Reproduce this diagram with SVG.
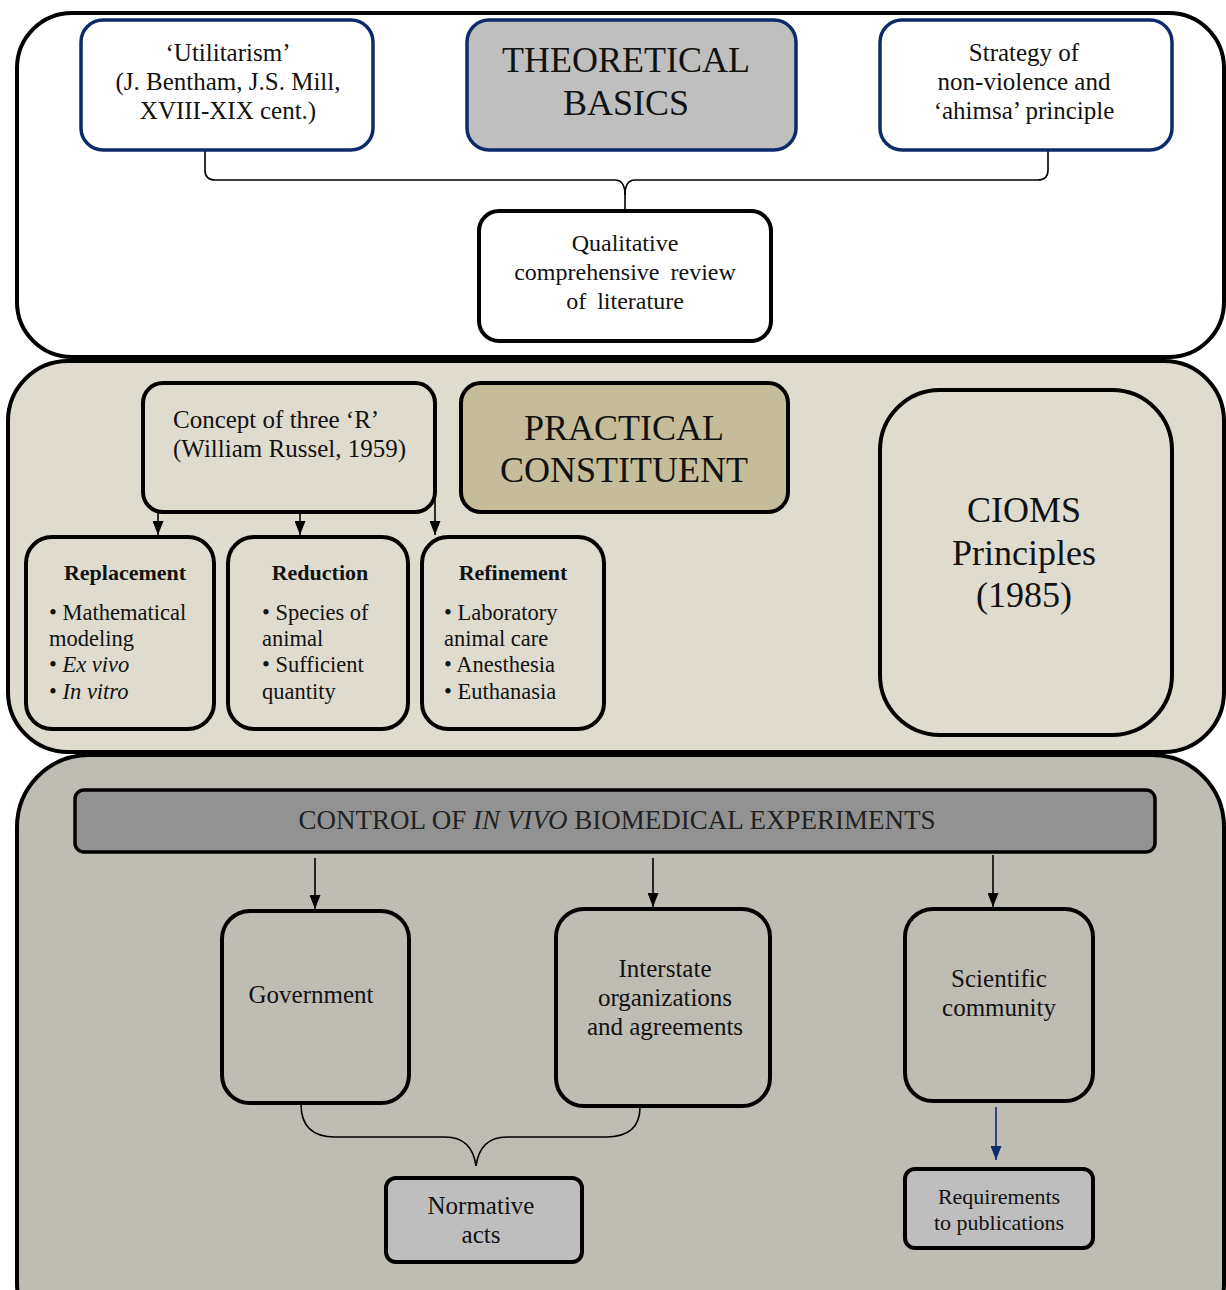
<svg xmlns="http://www.w3.org/2000/svg" width="1226" height="1290" viewBox="0 0 1226 1290">
<defs>
<style>
text{font-family:"Liberation Serif","Times New Roman",serif;fill:#111;}
.t24{font-size:25px;text-anchor:middle;}
.t22{font-size:22.5px;}
.big{font-size:36px;text-anchor:middle;}
.panel{stroke:#000;stroke-width:4;}
.box{stroke:#000;stroke-width:4;}
.bbox{stroke:#0d2a6b;stroke-width:3.5;fill:#fff;}
.conn{fill:none;stroke:#000;stroke-width:1.6;}
.b{font-weight:bold;text-anchor:middle;font-size:22px;}
</style>
<marker id="ah" viewBox="0 0 14 11" refX="14" refY="5.5" markerWidth="14" markerHeight="11" markerUnits="userSpaceOnUse" orient="auto"><path d="M0,0 L14,5.5 L0,11 z" fill="#000"/></marker>
<marker id="ahb" viewBox="0 0 14 11" refX="14" refY="5.5" markerWidth="14" markerHeight="11" markerUnits="userSpaceOnUse" orient="auto"><path d="M0,0 L14,5.5 L0,11 z" fill="#0d2a6b"/></marker>
</defs>

<!-- Panels -->
<g id="panel-theoretical"><rect class="panel" x="17" y="13" width="1207" height="344" rx="55" fill="#fff"/></g>
<g id="panel-practical"><rect class="panel" x="8" y="361" width="1216" height="391" rx="60" fill="#dfdccf"/></g>
<g id="panel-control"><rect class="panel" x="17" y="755" width="1207" height="600" rx="72" fill="#bfbcb4"/></g>

<!-- Connectors -->
<g id="connectors">
<path class="conn" d="M205,150 V170 Q205,180 215,180 H615 Q625,180 625,195 V210"/>
<path class="conn" d="M1048,150 V170 Q1048,180 1038,180 H635 Q625,180 625,195"/>
<line class="conn" x1="158" y1="512" x2="158" y2="535" marker-end="url(#ah)"/>
<line class="conn" x1="300" y1="512" x2="300" y2="535" marker-end="url(#ah)"/>
<line class="conn" x1="435" y1="492" x2="435" y2="535" marker-end="url(#ah)"/>
<line class="conn" x1="315" y1="858" x2="315" y2="909" marker-end="url(#ah)"/>
<line class="conn" x1="653" y1="858" x2="653" y2="907" marker-end="url(#ah)"/>
<line class="conn" x1="993" y1="855" x2="993" y2="907" marker-end="url(#ah)"/>
<line x1="996" y1="1107" x2="996" y2="1160" stroke="#0d2a6b" stroke-width="1.6" marker-end="url(#ahb)"/>
<path class="conn" d="M301,1104 Q301,1137 335,1137 H445 Q472,1137 476,1166"/>
<path class="conn" d="M640,1107 Q640,1137 606,1137 H507 Q480,1137 476,1166"/>
</g>

<!-- Theoretical nodes -->
<g id="utilitarism"><rect class="bbox" x="81" y="20" width="292" height="130" rx="22"/>
<text class="t24" x="228" y="61">‘Utilitarism’</text>
<text class="t24" x="228" y="90">(J. Bentham, J.S. Mill,</text>
<text class="t24" x="228" y="119">XVIII-XIX cent.)</text></g>
<g id="theoretical-basics"><rect class="bbox" x="467" y="20" width="329" height="130" rx="22" style="fill:#bfbfbf"/>
<text class="big" x="626" y="72">THEORETICAL</text>
<text class="big" x="626" y="115">BASICS</text></g>
<g id="strategy"><rect class="bbox" x="880" y="20" width="292" height="130" rx="22"/>
<text class="t24" x="1024" y="61">Strategy of</text>
<text class="t24" x="1024" y="90">non-violence and</text>
<text class="t24" x="1024" y="119">‘ahimsa’ principle</text></g>
<g id="qualitative"><rect class="box" x="479" y="211" width="292" height="130" rx="20" fill="#fff"/>
<text class="t24" x="625" y="251" style="font-size:24px">Qualitative</text>
<text class="t24" x="625" y="280" style="font-size:24px" word-spacing="5">comprehensive review</text>
<text class="t24" x="625" y="309" style="font-size:24px" word-spacing="5">of literature</text></g>

<!-- Practical nodes -->
<g id="concept"><rect class="box" x="143" y="383" width="292" height="129" rx="20" fill="#dfdccf"/>
<text class="t24" x="173" y="428" style="text-anchor:start">Concept of three ‘R’</text>
<text class="t24" x="173" y="457" style="text-anchor:start">(William Russel, 1959)</text></g>
<g id="practical-constituent"><rect class="box" x="461" y="383" width="327" height="129" rx="20" fill="#c5bd99"/>
<text class="big" x="624" y="440">PRACTICAL</text>
<text class="big" x="624" y="482">CONSTITUENT</text></g>
<g id="cioms"><rect class="box" x="880" y="390" width="292" height="345" rx="60" fill="#dfdccf"/>
<text class="big" x="1024" y="522">CIOMS</text>
<text class="big" x="1024" y="565">Principles</text>
<text class="big" x="1024" y="607">(1985)</text></g>
<g id="replacement"><rect class="box" x="26" y="537" width="188" height="192" rx="26" fill="#dfdccf"/>
<text class="b" x="125" y="580">Replacement</text>
<text class="t22" x="49" y="620">• Mathematical</text>
<text class="t22" x="49" y="646">modeling</text>
<text class="t22" x="49" y="672">• <tspan font-style="italic">Ex vivo</tspan></text>
<text class="t22" x="49" y="699">• <tspan font-style="italic">In vitro</tspan></text></g>
<g id="reduction"><rect class="box" x="228" y="537" width="180" height="192" rx="26" fill="#dfdccf"/>
<text class="b" x="320" y="580">Reduction</text>
<text class="t22" x="262" y="620">• Species of</text>
<text class="t22" x="262" y="646">animal</text>
<text class="t22" x="262" y="672">• Sufficient</text>
<text class="t22" x="262" y="699">quantity</text></g>
<g id="refinement"><rect class="box" x="422" y="537" width="182" height="192" rx="26" fill="#dfdccf"/>
<text class="b" x="513" y="580">Refinement</text>
<text class="t22" x="444" y="620">• Laboratory</text>
<text class="t22" x="444" y="646">animal care</text>
<text class="t22" x="444" y="672">• Anesthesia</text>
<text class="t22" x="444" y="699">• Euthanasia</text></g>

<!-- Control nodes -->
<g id="control"><rect x="75" y="790" width="1080" height="62" rx="9" fill="#929292" stroke="#000" stroke-width="3.5"/>
<text class="t24" x="617" y="829" style="fill:#222;font-size:27px">CONTROL OF <tspan font-style="italic">IN VIVO</tspan> BIOMEDICAL EXPERIMENTS</text></g>
<g id="government"><rect class="box" x="222" y="911" width="187" height="192" rx="28" fill="#bfbcb4"/>
<text class="t24" x="311" y="1003">Government</text></g>
<g id="interstate"><rect class="box" x="556" y="909" width="214" height="197" rx="28" fill="#bfbcb4"/>
<text class="t24" x="665" y="977">Interstate</text>
<text class="t24" x="665" y="1006">organizations</text>
<text class="t24" x="665" y="1035">and agreements</text></g>
<g id="scientific"><rect class="box" x="905" y="909" width="188" height="192" rx="28" fill="#bfbcb4"/>
<text class="t24" x="999" y="987">Scientific</text>
<text class="t24" x="999" y="1016">community</text></g>
<g id="normative"><rect class="box" x="386" y="1178" width="196" height="84" rx="10" fill="#bebebe"/>
<text class="t24" x="481" y="1214">Normative</text>
<text class="t24" x="481" y="1243">acts</text></g>
<g id="requirements"><rect class="box" x="905" y="1169" width="188" height="79" rx="10" fill="#bebebe"/>
<text class="t24" x="999" y="1204" style="font-size:22px">Requirements</text>
<text class="t24" x="999" y="1230" style="font-size:22px">to publications</text></g>
</svg>
